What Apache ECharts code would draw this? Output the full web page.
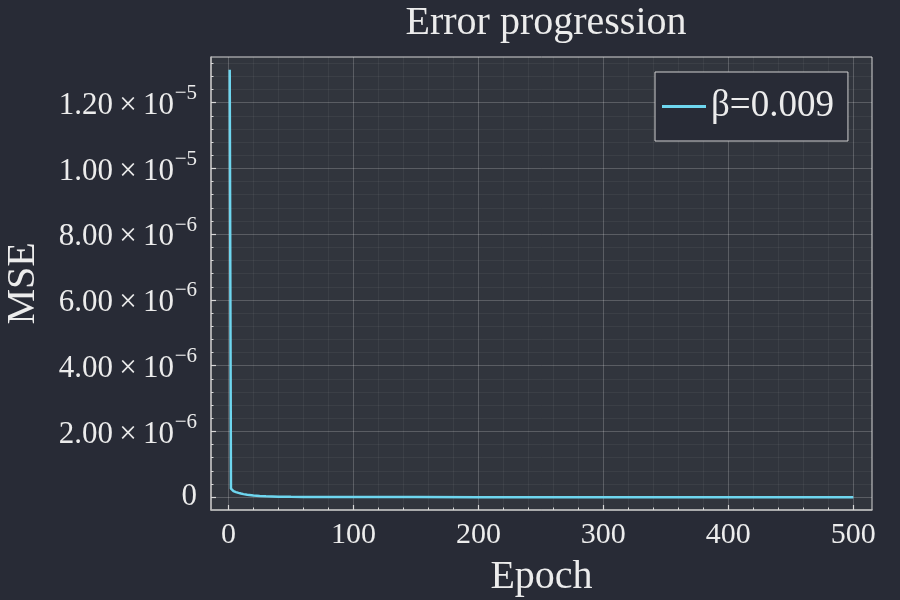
<!DOCTYPE html>
<html><head><meta charset="utf-8">
<script src="https://cdn.jsdelivr.net/npm/echarts@6/dist/echarts.min.js"></script>
<style>html,body{margin:0;padding:0;background:#282b36}#c{width:900px;height:600px}</style>
</head><body><div id="c"></div>
<script>
const seriesName = 'β=0.009';
const epochs = [1, 2, 3, 4, 5, 6, 8, 10, 12, 15, 20, 25, 30, 40, 50, 60, 80, 100, 150, 200, 300, 400, 500];
const mse = [1.30e-5, 2.6e-7, 2.1e-7, 1.85e-7, 1.7e-7, 1.55e-7, 1.3e-7, 1.1e-7, 9.3e-8, 7.5e-8, 5.2e-8, 3.7e-8, 2.7e-8, 1.6e-8, 1.1e-8, 8e-9, 5e-9, 3.5e-9, 2e-9, 1.5e-9, 1e-9, 7e-10, 5e-10];
const xMajorTicks = [0, 100, 200, 300, 400, 500];
const xMinorTicks = [20, 40, 60, 80, 120, 140, 160, 180, 220, 240, 260, 280, 320, 340, 360, 380, 420, 440, 460, 480];
const yMajorTicks = [0, 2e-6, 4e-6, 6e-6, 8e-6, 1e-5, 1.2e-5];
const yTickMantissa = ['0', '2.00', '4.00', '6.00', '8.00', '1.00', '1.20'];
const yTickExponent = ['', '−6', '−6', '−6', '−6', '−5', '−5'];
const yMinorTicks = [0.4e-6, 0.8e-6, 1.2e-6, 1.6e-6, 2.4e-6, 2.8e-6, 3.2e-6, 3.6e-6, 4.4e-6, 4.8e-6, 5.2e-6, 5.6e-6, 6.4e-6, 6.8e-6, 7.2e-6, 7.6e-6, 8.4e-6, 8.8e-6, 9.2e-6, 9.6e-6, 10.4e-6, 10.8e-6, 11.2e-6, 11.6e-6, 12.4e-6, 12.8e-6, 13.2e-6];

const FONT = 'Liberation Serif';
const TXT = '#ececec';
const X_MIN = -13.97, X_MAX = 514.97;
const Y_MIN = -0.39e-6, Y_MAX = 13.39e-6;

function yLabel(v) {
  for (let i = 0; i < yMajorTicks.length; i++) {
    if (Math.abs(yMajorTicks[i] - v) < 1e-12) {
      if (!yTickExponent[i]) return '{z|' + yTickMantissa[i] + '}';
      return '{e|' + yTickExponent[i] + '}\n{m|' + yTickMantissa[i] + '\u2009×\u200910}{sp| }';
    }
  }
  return '';
}

const chart = echarts.init(document.getElementById('c'), null, {renderer: 'canvas'});
chart.setOption({
  backgroundColor: '#282b36',
  animation: false,
  title: {
    text: 'Error progression', left: 541, top: -2, textAlign: 'center',
    textStyle: {fontFamily: FONT, fontSize: 40, fontWeight: 'normal', color: TXT}
  },
  legend: {
    left: 655, top: 72,
    backgroundColor: '#282b36', borderColor: '#d0d0d0', borderWidth: 1, borderRadius: 0,
    padding: [16, 14, 16, 7],
    icon: 'rect', itemWidth: 44, itemHeight: 3,
    textStyle: {fontFamily: FONT, fontSize: 37, color: TXT},
    data: [seriesName]
  },
  grid: {
    left: 211, right: 28, top: 57, bottom: 90, outerBoundsMode: 'none', containLabel: false,
    show: true, backgroundColor: '#31353d', borderColor: '#d6d6d6', borderWidth: 1
  },
  xAxis: [{
    type: 'value', min: X_MIN, max: X_MAX,
    name: 'Epoch', nameLocation: 'middle', nameGap: 47,
    nameTextStyle: {fontFamily: FONT, fontSize: 40, color: TXT},
    axisLine: {show: true, onZero: false, lineStyle: {color: '#b8b8b8', width: 1.5}},
    axisTick: {show: true, inside: true, length: 5, customValues: xMajorTicks, lineStyle: {color: '#d8d8d8', width: 1.2}},
    axisLabel: {show: true, customValues: xMajorTicks, margin: 10, fontFamily: FONT, fontSize: 30, color: TXT},
    splitLine: {show: true, lineStyle: {color: 'rgba(255,255,255,0.2)', width: 1}}
  }, {
    type: 'value', min: X_MIN, max: X_MAX, position: 'bottom',
    axisLine: {show: false, onZero: false},
    axisTick: {show: true, inside: true, length: 2.5, customValues: xMinorTicks, lineStyle: {color: '#d8d8d8', width: 1}},
    axisLabel: {show: false, customValues: xMinorTicks},
    splitLine: {show: true, lineStyle: {color: 'rgba(255,255,255,0.05)', width: 1}}
  }],
  yAxis: [{
    type: 'value', min: Y_MIN, max: Y_MAX,
    name: 'MSE', nameLocation: 'middle', nameGap: 168, nameRotate: 90,
    nameTextStyle: {fontFamily: FONT, fontSize: 40, color: TXT},
    axisLine: {show: true, onZero: false, lineStyle: {color: '#b8b8b8', width: 1.5}},
    axisTick: {show: true, inside: true, length: 5, customValues: yMajorTicks, lineStyle: {color: '#d8d8d8', width: 1.2}},
    axisLabel: {
      show: true, customValues: yMajorTicks, margin: 14, formatter: yLabel,
      rich: {
        z: {fontFamily: FONT, fontSize: 31, color: TXT},
        m: {fontFamily: FONT, fontSize: 31, color: TXT, lineHeight: 18, align: 'right'},
        sp: {fontFamily: FONT, fontSize: 21, color: TXT, lineHeight: 18, width: 23, align: 'right'},
        e: {fontFamily: FONT, fontSize: 21, color: TXT, lineHeight: 6, align: 'right'}
      }
    },
    splitLine: {show: true, lineStyle: {color: 'rgba(255,255,255,0.2)', width: 1}}
  }, {
    type: 'value', min: Y_MIN, max: Y_MAX, position: 'left',
    axisLine: {show: false, onZero: false},
    axisTick: {show: true, inside: true, length: 2.5, customValues: yMinorTicks, lineStyle: {color: '#d8d8d8', width: 1}},
    axisLabel: {show: false, customValues: yMinorTicks},
    splitLine: {show: true, lineStyle: {color: 'rgba(255,255,255,0.05)', width: 1}}
  }],
  series: [{
    name: seriesName, type: 'line', xAxisIndex: 0, yAxisIndex: 0,
    showSymbol: false, symbol: 'none', smooth: false,
    lineStyle: {color: '#6ed6ef', width: 2.5}, itemStyle: {color: '#6ed6ef'},
    data: epochs.map((e, i) => [e, mse[i]])
  }]
});
</script></body></html>
